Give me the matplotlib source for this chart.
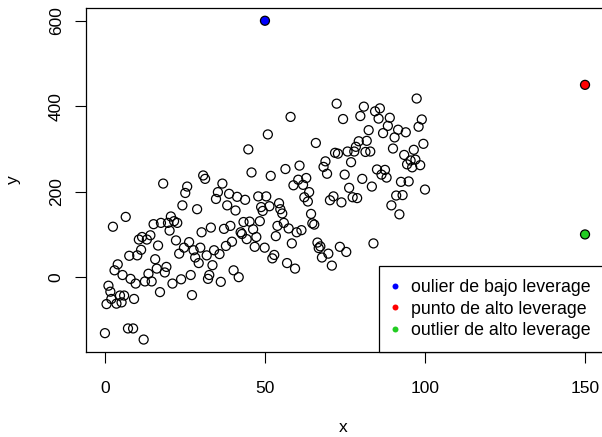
import numpy as np
import matplotlib.pyplot as plt
from matplotlib.lines import Line2D

plt.rcParams['font.family'] = ['Liberation Sans', 'DejaVu Sans']

# main cloud of observations
x = [0, 1.1, 1.7, 0.5, 2, 2.5, 3, 4, 3.6, 4.7, 5.2, 6, 5.5, 6.5, 7.2, 8.8,
     7.6, 8, 9.1, 9.6, 10.1, 10.6, 11.3, 11.6, 12.1, 12.5, 13.1, 13.6, 14.2,
     14.6, 15.2, 15.7, 16.2, 16.6, 17.2, 17.5, 18.2, 18.7, 19.2, 19.7, 20.2,
     20.6, 21.1, 21.6, 22.2, 22.6, 23.2, 23.8, 24.2, 24.7, 25.1, 25.7, 26.3,
     26.8, 27.2, 27.7, 28.2, 28.8, 29.3, 29.8, 30.2, 30.7, 31.3, 31.8, 32.2,
     32.6, 33.1, 33.6, 34.1, 34.7, 35.3, 35.8, 36.2, 36.7, 37.2, 37.8, 38.2,
     38.8, 39.2, 39.7, 40.2, 40.8, 41.3, 41.8, 42.4, 42.8, 43.3, 43.8, 44.3,
     44.8, 45.2, 45.8, 46.3, 46.8, 47.3, 47.9, 48.4, 48.8, 49.3, 49.9, 50.4,
     50.9, 51.4, 51.8, 52.3, 52.9, 53.4, 53.9, 54.4, 54.8, 55.4, 55.9, 56.4,
     56.9, 57.4, 58, 58.4, 58.9, 59.4, 59.9, 60.4, 60.8, 61.4, 61.9, 62.3,
     62.9, 63.4, 63.8, 64.4, 64.8, 65.4, 65.9, 66.4, 66.8, 67.3, 67.8, 68.3,
     68.9, 69.4, 69.8, 70.3, 70.9, 71.4, 71.9, 72.4, 72.8, 73.4, 73.9, 74.4,
     74.9, 75.4, 75.8, 76.3, 76.9, 77.4, 77.9, 78.4, 78.8, 79.3, 79.8, 80.4,
     80.9, 81.4, 81.8, 82.4, 82.9, 83.4, 83.9, 84.4, 85, 85.5, 85.9, 86.4,
     86.9, 87.5, 88, 88.4, 89, 89.5, 90, 90.5, 91, 91.6, 92, 92.5, 93, 93.5,
     94, 94.4, 94.9, 95.5, 96, 96.5, 97, 97.4, 98, 98.5, 99, 99.5, 100]
y = [-131, -20, -34, -63, -51, 118, 16, 30, -62, -43, -59, -43, 5, 141, -120,
     -120, 50, -4, -51, -15, 51, 88, 64, 94, -146, -10, 88, 8, 98, -10, 124,
     42, 20, 74, -35, 127, 219, 11, 24, 127, 109, 142, -15, 131, 86, 127, 55,
     -5, 168, 69, 197, 212, 82, 5, -42, 63, 46, 159, 33, 69, 105, 238, 230,
     51, -4, 5, 116, 28, 63, 183, 199, 54, -11, 219, 113, 73, 168, 195, 120,
     83, 16, 156, 188, 0, 105, 101, 129, 181, 89, 299, 130, 245, 112, 71, 94,
     189, 131, 164, 155, 69, 189, 334, 166, 237, 44, 52, 96, 120, 173, 159,
     149, 127, 253, 33, 114, 375, 79, 215, 20, 105, 228, 261, 110, 216, 187,
     232, 177, 199, 148, 126, 123, 314, 81, 68, 72, 46, 258, 271, 242, 55,
     180, 27, 189, 291, 406, 289, 71, 175, 370, 240, 59, 294, 209, 269, 187,
     294, 305, 185, 318, 377, 230, 399, 293, 319, 344, 294, 212, 79, 388, 252,
     371, 395, 240, 337, 251, 233, 354, 373, 168, 301, 327, 191, 345, 147,
     223, 192, 286, 339, 264, 224, 273, 257, 298, 275, 418, 352, 262, 369,
     312, 205]

# special points
special_x = [50, 150, 150]
special_y = [600, 450, 100]
special_colors = ['#0000FF', '#FF0000', '#22CC22']
special_labels = ['oulier de bajo leverage', 'punto de alto leverage',
                  'outlier de alto leverage']

fig = plt.figure(figsize=(6.02, 4.37), dpi=100)
ax = fig.add_axes([0.1424, 0.1938, 0.8613, 0.7879])

ax.scatter(x, y, s=42, facecolors='none', edgecolors='black', linewidths=0.9)
ax.scatter(special_x, special_y, s=42, c=special_colors,
           edgecolors='black', linewidths=0.9, zorder=3)

# R style padding of 4% on each side
xr = max(max(x), max(special_x)) - min(x)
yr = max(max(y), max(special_y)) - min(y)
ax.set_xlim(min(x) - 0.04 * xr, max(special_x) + 0.04 * xr)
ax.set_ylim(min(y) - 0.04 * yr, max(special_y) + 0.04 * yr)

ax.set_xticks([0, 50, 100, 150])
ax.set_yticks([0, 200, 400, 600])
ax.tick_params(length=7.9, width=0.8, labelsize=12.5, pad=12.5)
ax.tick_params(axis='y', pad=8)
for lab in ax.get_yticklabels():
    lab.set_rotation(90)
    lab.set_va('center')
for sp in ax.spines.values():
    sp.set_linewidth(0.9)

fig.text(343 / 602, 1 - 428 / 437, 'x', fontsize=12.5, ha='center', va='center')
fig.text(13 / 602, 1 - 180 / 437, 'y', fontsize=12.5, ha='center', va='center',
         rotation=90)

handles = [Line2D([], [], linestyle='none', marker='o', markersize=4.3,
                  markerfacecolor=c, markeredgecolor='none')
           for c in special_colors]
leg = ax.legend(handles, special_labels, loc='lower right', bbox_to_anchor=(1, 0),
                borderaxespad=0, fontsize=12.8, fancybox=False, framealpha=1,
                edgecolor='black', borderpad=0.75, handlelength=0.25,
                handletextpad=0.79, labelspacing=0.25)
leg.get_frame().set_linewidth(0.9)

fig.savefig('out.png', dpi=100)
